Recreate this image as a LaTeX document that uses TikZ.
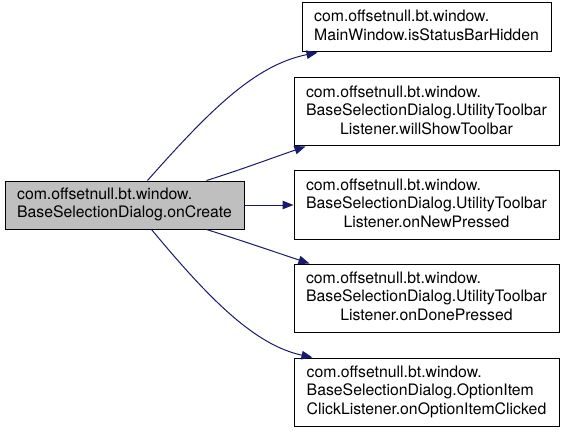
\documentclass[tikz,border=0pt]{standalone}
\usepackage{fontspec}
\setmainfont{TeX Gyre Heros}
\usetikzlibrary{arrows.meta}
\definecolor{edgeblue}{HTML}{191970}
\definecolor{selgray}{HTML}{BFBFBF}
\begin{document}
\begin{tikzpicture}[x=1pt,y=-1pt,
  fn/.style={draw=black, line width=1pt, inner sep=0pt, fill=white,
    font=\fontsize{15.8}{18.5}\selectfont, anchor=center, minimum width=265pt, minimum height=68pt},
  edge/.style={draw=edgeblue, line width=1pt, -{Triangle[length=11pt,width=8.5pt]}}]
\useasboundingbox (0,0) rectangle (565,433);
\node[fn, fill=selgray, minimum width=239pt, minimum height=48pt] (L) at (124.5,205)
  {\begin{tabular}{@{}l@{}}com.offsetnull.bt.window.\\BaseSelectionDialog.onCreate\end{tabular}};
\node[fn, minimum width=249pt, minimum height=49pt] (B1) at (426.5,27.5)
  {\begin{tabular}{@{}l@{}}com.offsetnull.bt.window.\\MainWindow.isStatusBarHidden\end{tabular}};
\node[fn] (B2) at (426.5,112)
  {\begin{tabular}{@{}l@{}}com.offsetnull.bt.window.\\BaseSelectionDialog.UtilityToolbar\\\multicolumn{1}{@{}c@{}}{Listener.willShowToolbar}\end{tabular}};
\node[fn] (B3) at (426.5,205)
  {\begin{tabular}{@{}l@{}}com.offsetnull.bt.window.\\BaseSelectionDialog.UtilityToolbar\\\multicolumn{1}{@{}c@{}}{Listener.onNewPressed}\end{tabular}};
\node[fn] (B4) at (426.5,298)
  {\begin{tabular}{@{}l@{}}com.offsetnull.bt.window.\\BaseSelectionDialog.UtilityToolbar\\\multicolumn{1}{@{}c@{}}{Listener.onDonePressed}\end{tabular}};
\node[fn] (B5) at (426.5,392)
  {\begin{tabular}{@{}l@{}}com.offsetnull.bt.window.\\BaseSelectionDialog.OptionItem\\\multicolumn{1}{@{}c@{}}{ClickListener.onOptionItemClicked}\end{tabular}};
\draw[edge] ([xshift=143pt]L.north west) .. controls (210,110) and (255,65) .. ([xshift=16pt]B1.south west);
\draw[edge] ([xshift=202pt]L.north west) .. controls (240,170) and (275,157) .. ([xshift=12pt]B2.south west);
\draw[edge] (L.east) -- (B3.west);
\draw[edge] ([xshift=202pt]L.south west) .. controls (240,240) and (275,252) .. ([xshift=16pt]B4.north west);
\draw[edge] ([xshift=147pt]L.south west) .. controls (210,300) and (255,345) .. ([xshift=19pt]B5.north west);
\end{tikzpicture}
\end{document}
